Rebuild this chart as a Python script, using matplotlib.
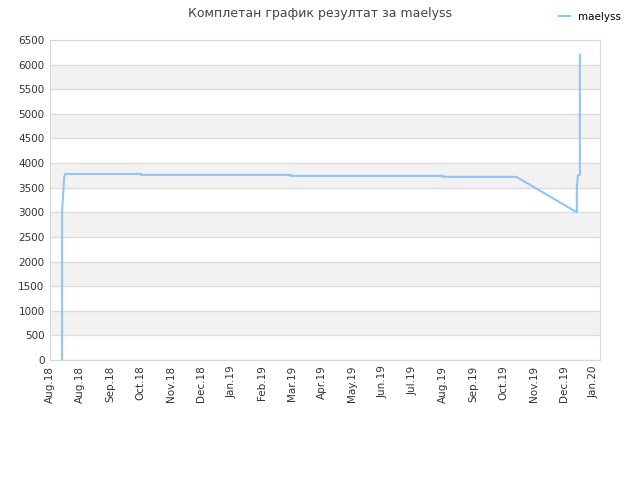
import datetime as dt
import matplotlib
matplotlib.use("Agg")
import matplotlib.pyplot as plt
import matplotlib.dates as mdates

# data
dates = ["2018-08-13", "2018-08-13", "2018-08-14", "2018-08-15", "2018-08-16",
         "2018-10-30", "2018-10-30", "2019-03-28", "2019-03-28",
         "2019-08-26", "2019-08-26", "2019-11-07", "2020-01-06",
         "2020-01-06", "2020-01-07", "2020-01-09", "2020-01-09"]
scores = [0, 3050, 3330, 3700, 3780,
          3780, 3760, 3760, 3740,
          3740, 3720, 3720, 3000,
          3500, 3750, 3760, 6200]
player = "maelyss"
title = "Комплетан график резултат за maelyss"

x = [dt.datetime.strptime(d, "%Y-%m-%d") for d in dates]
start = dt.datetime(2018, 8, 1)
end = start + dt.timedelta(days=546)
ticks = [start + dt.timedelta(days=30 * i) for i in range(19)]

fig = plt.figure(figsize=(6.4, 4.8), dpi=100)
ax = fig.add_axes([50 / 640, 120 / 480, 550 / 640, 320 / 480])

# alternating bands
for lo in range(500, 6500, 1000):
    ax.axhspan(lo, lo + 500, color="#f2f2f2", zorder=0, lw=0)
for v in range(0, 7000, 500):
    ax.axhline(v, color="#dcdcdc", lw=1, zorder=1)

ax.plot(x, scores, color="#92c5f5", lw=1.5, label=player, zorder=3)

ax.set_xlim(start, end)
ax.set_ylim(0, 6500)
ax.set_yticks(range(0, 7000, 500))
ax.set_xticks(ticks)
ax.xaxis.set_major_formatter(mdates.DateFormatter("%b.%y"))
plt.setp(ax.get_xticklabels(), rotation=90)
ax.tick_params(length=0, labelsize=7.5, colors="#333333", pad=4)
for s in ax.spines.values():
    s.set_color("#d8d8d8")

fig.suptitle(title, fontsize=9, color="#444444", y=0.985)
fig.legend(loc="upper right", bbox_to_anchor=(0.985, 0.995), frameon=False,
           fontsize=7.5, handlelength=1.0)

fig.savefig("out.png", dpi=100)
